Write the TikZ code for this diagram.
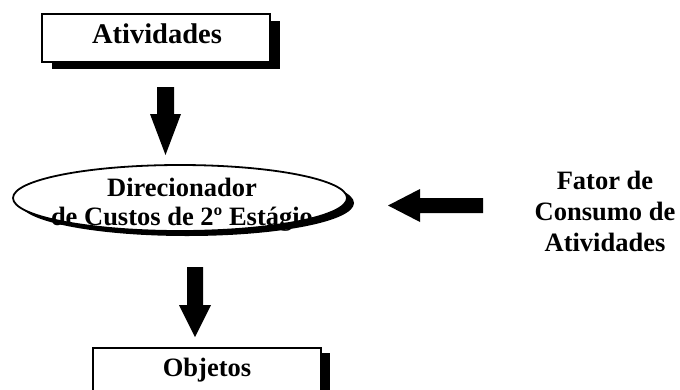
\documentclass[tikz,border=0pt]{standalone}
\usepackage{fontspec}
\setmainfont{Liberation Serif}
\usetikzlibrary{shapes.geometric}
\begin{document}
\begin{tikzpicture}[x=1pt,y=-1pt,
  lbl/.style={font=\fontsize{26.5}{31}\selectfont\bfseries, inner sep=0pt, anchor=base},
  boxshape/.style={draw=black, line width=1.5pt, fill=white, minimum width=228pt, minimum height=48pt, inner sep=0pt},
  shadowbox/.style={fill=black, draw=none, minimum width=228pt, minimum height=48pt, inner sep=0pt},
  blockarrow/.style={fill=black, draw=none}]
\useasboundingbox (0,0) rectangle (680,389);
\clip (0,0) rectangle (680,389);
% Atividades box
\node[shadowbox] (atvshadow) at (166,44.5) {};
\node[boxshape] (atv) at (156,38) {};
\node[lbl, font=\fontsize{28.5}{31}\selectfont\bfseries] (atvtext) at (157,43.5) {Atividades};
% arrow 1 (down)
\coordinate (a1) at (165.5,87);
\fill[blockarrow] (157,87) -- (174,87) -- (174,114) -- (181,114) -- (165.5,155) -- (150,114) -- (157,114) -- cycle;
% ellipse
\fill[black] (187,203) ellipse [x radius=167, y radius=33];
\node[draw=black, line width=1.8pt, fill=white, ellipse, minimum width=334pt, minimum height=66pt, inner sep=0pt] (dir) at (180,198) {};
\node[lbl] (dir1) at (182,196) {Direcionador};
\node[lbl] (dir2) at (182,225) {de Custos de 2º Estágio};
% arrow 3 (left)
\fill[blockarrow] (483,198) -- (483,213) -- (420,213) -- (420,222) -- (388,205.5) -- (420,189) -- (420,198) -- cycle;
% factor text
\node[lbl] (fat1) at (605,189) {Fator de};
\node[lbl] (fat2) at (605,220) {Consumo de};
\node[lbl] (fat3) at (605,251) {Atividades};
% arrow 2 (down)
\fill[blockarrow] (187,267) -- (203,267) -- (203,305) -- (211,305) -- (195,337) -- (179,305) -- (187,305) -- cycle;
% Objetos box
\node[shadowbox, anchor=north west] (objshadow) at (102,353) {};
\node[boxshape, anchor=north west] (obj) at (92,347) {};
\node[lbl] (objtext) at (207,376) {Objetos};
\end{tikzpicture}
\end{document}
